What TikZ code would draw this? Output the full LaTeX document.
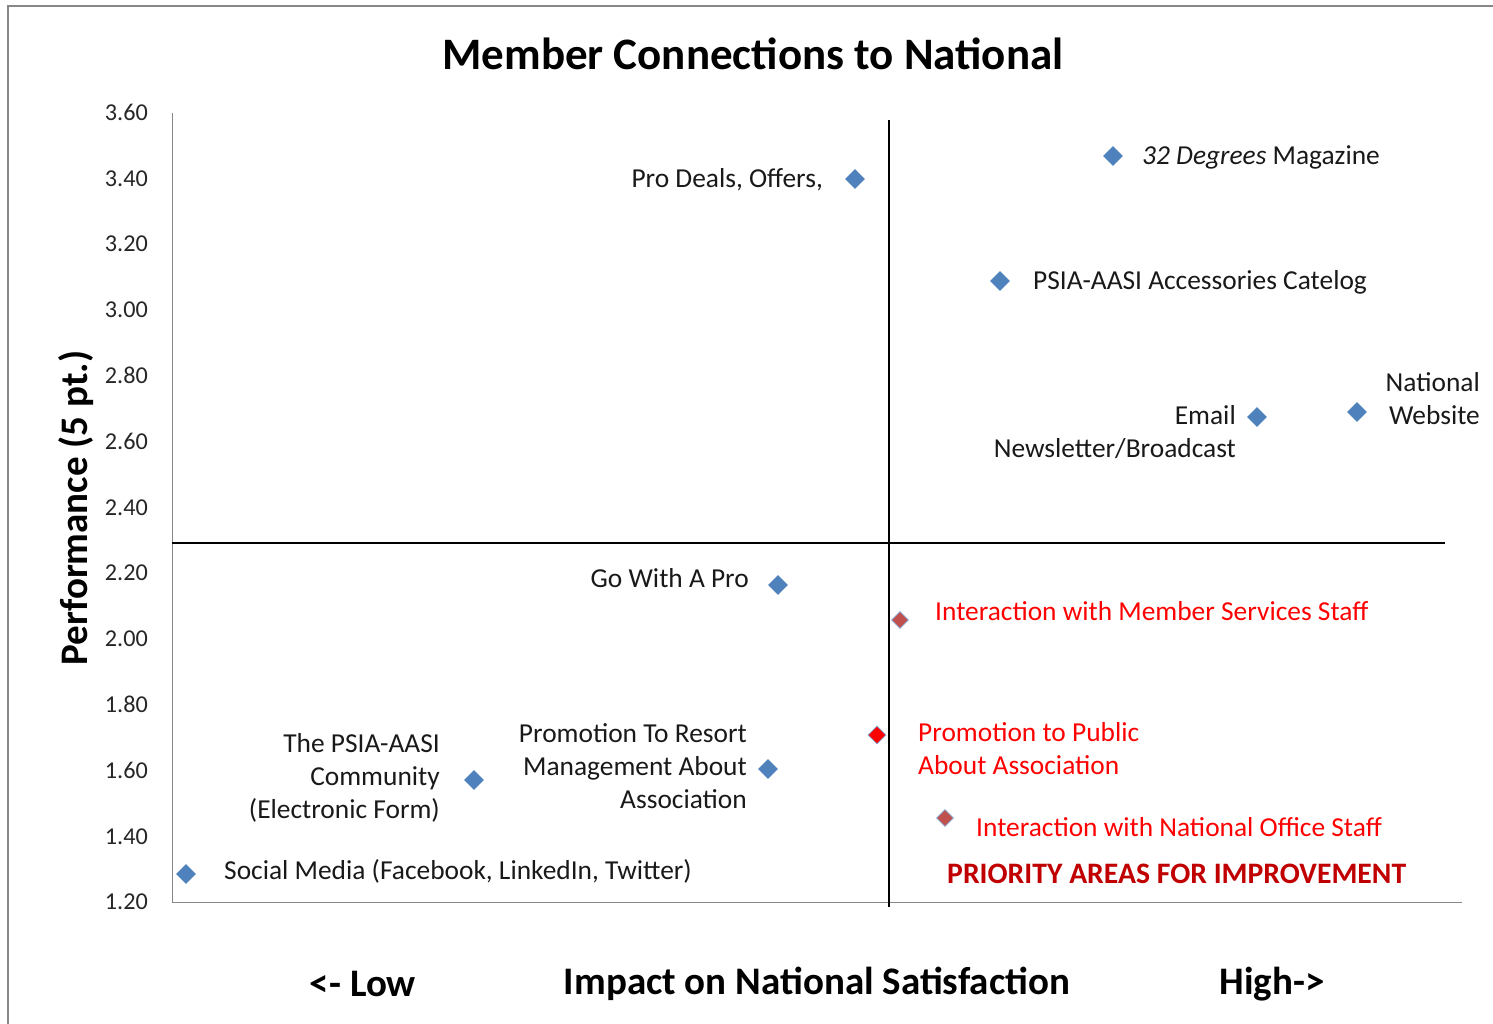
\documentclass[tikz,border=0pt]{standalone}
\usepackage{fontspec}
\setmainfont{Carlito}
\usetikzlibrary{shapes.geometric}
\definecolor{mblue}{HTML}{4F81BD}
\definecolor{mred}{HTML}{C0504D}
\definecolor{dred}{HTML}{C00000}
\definecolor{frame}{HTML}{878787}
\tikzset{
  pt/.style={diamond, inner sep=0pt, minimum width=20pt, minimum height=20pt, fill=mblue},
  ptr/.style={diamond, inner sep=0pt, minimum width=17pt, minimum height=17pt, fill=mred, draw=mblue!70, line width=0.6pt},
  ptrr/.style={diamond, inner sep=0pt, minimum width=18pt, minimum height=18pt, fill=red, draw=mblue!70, line width=0.6pt},
  lbl/.style={font=\fontsize{27.4}{33}\selectfont, inner sep=0pt, text=black!90},
  lblr/.style={lbl, text=red},
  tick/.style={font=\fontsize{24.2}{28}\selectfont, anchor=east, inner sep=0pt, text=black!85},
  axt/.style={font=\fontsize{39}{44}\selectfont\bfseries, inner sep=0pt},
}
\begin{document}
\begin{tikzpicture}[x=1pt,y=-1pt]
\useasboundingbox (0,0) rectangle (1493,1024);
% frame
\draw[frame, line width=2pt] (8,1024) -- (8,6) -- (1493,6);
% axes
\draw[frame, line width=1pt] (172,113) -- (172,902) -- (1462,902);
% quadrant lines
\draw[black, line width=2pt] (888.5,120) -- (888.5,907);
\draw[black, line width=1.8pt] (172,543) -- (1445,543);
% title
\node[font=\fontsize{45}{52}\selectfont\bfseries, inner sep=0pt] (title) at (753,54) {Member Connections to National};
% y tick labels
\foreach \v [count=\i from 0] in {3.60,3.40,3.20,3.00,2.80,2.60,2.40,2.20,2.00,1.80,1.60,1.40,1.20}
  \node[tick] (t\i) at (148,112.5+65.8*\i) {\v};
% axis titles
\node[axt, rotate=90] (ytitle) at (76,508) {Performance (5 pt.)};
\node[axt] (low) at (363,984) {<- Low};
\node[axt] (xtitle) at (817,984) {Impact on National Satisfaction};
\node[axt] (high) at (1272,984) {High->};
% points
\node[pt] (p1) at (855,179) {};
\node[lbl, anchor=east] (l1) at (823,180) {Pro Deals, Offers,};
\node[pt] (p2) at (1113,156) {};
\node[lbl, anchor=west] (l2) at (1142,157) {\textit{32 Degrees} Magazine};
\node[pt] (p3) at (1000,281) {};
\node[lbl, anchor=west] (l3) at (1033,282) {PSIA-AASI Accessories Catelog};
\node[pt] (p4) at (1257,417) {};
\node[lbl, anchor=north east, align=right] (l4) at (1236,405) {Email\\Newsletter/Broadcast};
\node[pt] (p5) at (1357,412) {};
\node[lbl, anchor=north east, align=right] (l5) at (1480,372) {National\\Website};
\node[pt] (p6) at (778,585) {};
\node[lbl, anchor=east] (l6) at (749,578) {Go With A Pro};
\node[ptr] (p7) at (900,620) {};
\node[lblr, anchor=west] (l7) at (935,611) {Interaction with Member Services Staff};
\node[ptrr] (p8) at (877,735) {};
\node[lblr, anchor=north west, align=left] (l8) at (918,722) {Promotion to Public\\About Association};
\node[ptr] (p9) at (945,818) {};
\node[lblr, anchor=west] (l9) at (976,827) {Interaction with National Office Staff};
\node[pt] (p10) at (768,769) {};
\node[lbl, anchor=north east, align=right] (l10) at (747,723) {Promotion To Resort\\Management About\\Association};
\node[pt] (p11) at (474,780) {};
\node[lbl, anchor=north east, align=right] (l11) at (440,733) {The PSIA-AASI\\Community\\(Electronic Form)};
\node[pt] (p12) at (186,874) {};
\node[lbl, anchor=west] (l12) at (224,871) {Social Media (Facebook, LinkedIn, Twitter)};
\node[font=\fontsize{29.7}{34}\selectfont\bfseries, text=dred, anchor=west, inner sep=0pt] (prio) at (947,874) {PRIORITY AREAS FOR IMPROVEMENT};
\end{tikzpicture}
\end{document}
